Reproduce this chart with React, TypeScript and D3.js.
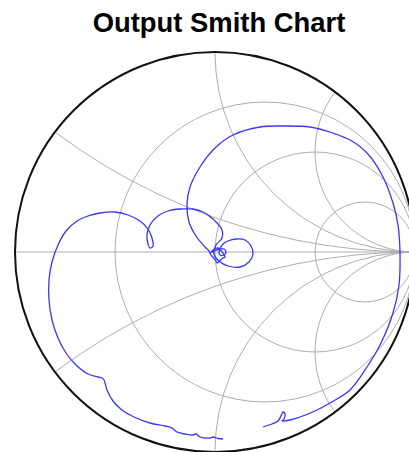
import React, { useEffect, useRef } from "react";
import * as d3 from "d3";

const title = "Output Smith Chart";
const resistanceValues = [1 / 3, 1, 3];
const reactanceValues = [1 / 3, 1, 2, -1 / 3, -1, -2];

// reflection coefficient trace
const gammaRe = [
  0.24, 0.285, 0.315, 0.33, 0.34, 0.35, 0.345, 0.335, 0.375, 0.425, 0.5, 0.575, 0.675, 0.76, 0.825, 0.89, 0.92, 0.925,
  0.915, 0.89, 0.835, 0.76, 0.675, 0.59, 0.475, 0.34, 0.225, 0.09, 0.0, -0.075, -0.125, -0.14, -0.13, -0.095, -0.05,
  -0.03, -0.025, -0.02, 0.005, 0.01, 0.015, 0.04, 0.05, 0.048, 0.02, 0.015, 0.007, -0.018, -0.02,
  0.02, 0.025, 0.045, 0.055, 0.045, 0.025, 0.02, 0.04, 0.065, 0.105, 0.15, 0.18, 0.19, 0.17,
  0.125, 0.065, 0.02, -0.005, 0.005, 0.035, 0.035, -0.01, -0.06, -0.11, -0.175, -0.235, -0.285, -0.325, -0.34, -0.335,
  -0.325, -0.31, -0.315, -0.335, -0.375, -0.435, -0.5, -0.575, -0.635, -0.69, -0.745, -0.785, -0.815, -0.83, -0.83,
  -0.815, -0.785, -0.745, -0.695, -0.635, -0.585, -0.565, -0.555, -0.54, -0.51, -0.465, -0.405, -0.325, -0.25, -0.215,
  -0.19, -0.15, -0.11, -0.095, -0.075, -0.025, -0.01, 0.015, 0.04,
];
const gammaIm = [
  -0.875, -0.86, -0.845, -0.82, -0.8, -0.81, -0.835, -0.845, -0.84, -0.825, -0.795, -0.755, -0.69, -0.575, -0.465,
  -0.305, -0.165, -0.005, 0.135, 0.245, 0.385, 0.495, 0.56, 0.595, 0.625, 0.63, 0.625, 0.585, 0.52, 0.425, 0.325, 0.235,
  0.15, 0.08, 0.025,
  0.005, -0.005, -0.015, -0.045, -0.055, -0.052, -0.03, -0.025, -0.018, 0.017, 0.02, 0.019, 0.002, -0.002,
  0.015, 0.015, 0.015, 0.0, -0.015, -0.015, 0.0, 0.04, 0.055, 0.065, 0.06,
  0.03, -0.01, -0.05, -0.075, -0.07, -0.045, -0.01, 0.035, 0.07, 0.11, 0.165, 0.2, 0.215, 0.215, 0.205, 0.18, 0.135,
  0.085, 0.04, 0.02, 0.03, 0.07, 0.115, 0.155, 0.185, 0.2, 0.195, 0.18, 0.155, 0.105, 0.035, -0.05, -0.14, -0.24, -0.34,
  -0.43, -0.505, -0.565, -0.61, -0.625, -0.63, -0.64, -0.69, -0.745, -0.79, -0.825, -0.855, -0.87, -0.88, -0.9, -0.91,
  -0.915, -0.91, -0.925, -0.93, -0.925, -0.9325, -0.935,
];

const W = 409;
const H = 452;

export default function App() {
  const ref = useRef<SVGSVGElement>(null);
  useEffect(() => {
    document.body.style.margin = "0";
    const svg = d3.select(ref.current);
    svg.selectAll("*").remove();
    const cx = 215, cy = 252, R = 200;
    const x = d3.scaleLinear().domain([-1, 1]).range([cx - R, cx + R]);
    const y = d3.scaleLinear().domain([-1, 1]).range([cy + R, cy - R]);
    const k = R; // pixels per unit

    svg
      .append("text")
      .attr("x", 219)
      .attr("y", 31.5)
      .attr("text-anchor", "middle")
      .attr("font-family", "'Liberation Sans', Arial, sans-serif")
      .attr("font-weight", "bold")
      .attr("font-size", 27.4)
      .attr("fill", "#000")
      .text(title);

    const defs = svg.append("defs");
    defs
      .append("clipPath")
      .attr("id", "unit")
      .append("circle")
      .attr("cx", x(0))
      .attr("cy", y(0))
      .attr("r", k);

    const grid = svg
      .append("g")
      .attr("clip-path", "url(#unit)")
      .attr("fill", "none")
      .attr("stroke", "#adadad")
      .attr("stroke-width", 1);
    grid.append("line").attr("x1", x(-1)).attr("x2", x(1)).attr("y1", y(0)).attr("y2", y(0));
    resistanceValues.forEach((r) => {
      grid
        .append("circle")
        .attr("cx", x(r / (1 + r)))
        .attr("cy", y(0))
        .attr("r", k / (1 + r));
    });
    reactanceValues.forEach((v) => {
      grid
        .append("circle")
        .attr("cx", x(1))
        .attr("cy", y(1 / v))
        .attr("r", k / Math.abs(v));
    });

    svg
      .append("circle")
      .attr("cx", x(0))
      .attr("cy", y(0))
      .attr("r", k)
      .attr("fill", "none")
      .attr("stroke", "#111")
      .attr("stroke-width", 2);

    const pts = gammaRe.map((g, i) => [g, gammaIm[i]] as [number, number]);
    const line = d3
      .line<[number, number]>()
      .x((d) => x(d[0]))
      .y((d) => y(d[1]))
      .curve(d3.curveCatmullRom.alpha(0.5));
    svg
      .append("path")
      .attr("d", line(pts))
      .attr("fill", "none")
      .attr("stroke", "#3636ff")
      .attr("stroke-width", 1.3)
      .attr("stroke-linejoin", "round");
  }, []);
  return (
    <div style={{ position: "absolute", left: 0, top: 0 }}>
      <svg ref={ref} width={W} height={H} style={{ display: "block", background: "#fff" }} />
    </div>
  );
}
